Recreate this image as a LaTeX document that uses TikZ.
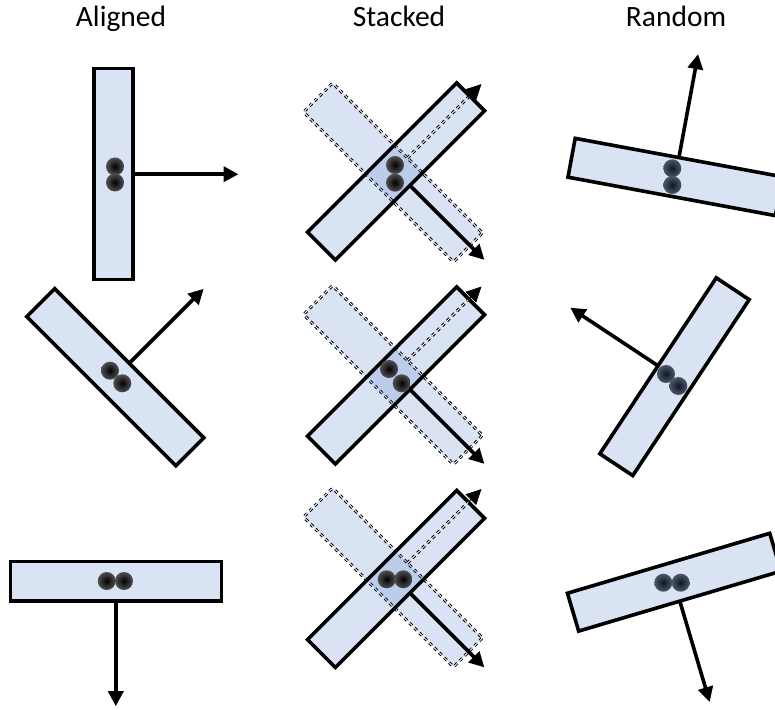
\documentclass[tikz,border=0pt]{standalone}
\usepackage{fontspec}
\setmainfont{Carlito}
\usetikzlibrary{arrows.meta,calc}
\definecolor{layerblue}{HTML}{4472C4}
\pgfdeclareradialshading{dotshade}{\pgfpoint{0bp}{0bp}}{color(0bp)=(black); color(6bp)=(black!92); color(28bp)=(black!65); color(50bp)=(black!30)}
\tikzset{
  layer/.style={rectangle, draw=black, line width=3.6pt, fill=layerblue, fill opacity=0.2, draw opacity=1,
    minimum width=211pt, minimum height=39.5pt, inner sep=0pt, outer sep=0pt},
  hiddenlayer/.style={layer, line width=1pt, double=white, double distance=0.9pt,
    dash pattern=on 3.5pt off 3.5pt, rounded corners=2pt, minimum width=212pt, minimum height=41pt},
  arr/.style={line width=3.6pt, -{Triangle[length=15pt,width=15pt]}},
  hiddenarr/.style={line width=1pt, double=white, double distance=0.9pt, dash pattern=on 3.5pt off 3.5pt},
  tiponly/.style={line width=0.8pt, -{Triangle[length=15pt,width=15pt]}},
  dot/.style={circle, minimum size=18pt, inner sep=0pt, outer sep=0pt, shade, shading=dotshade},
  title/.style={anchor=base, font=\fontsize{29.5}{35}\selectfont, inner sep=0pt}
}
\begin{document}
\begin{tikzpicture}[x=1pt,y=1pt]
\useasboundingbox (0,0) rectangle (775,709);
\clip (0,0) rectangle (775,709);

% titles
\node[title] (tA) at (121,682.3) {Aligned};
\node[title] (tS) at (399,682.3) {Stacked};
\node[title] (tR) at (676,682.3) {Random};

% ---------------- Aligned ----------------
\node[layer, rotate=-90] (a1) at (113.5,534.8) {};
\node[dot] (a1d1) at (115,542.5) {};
\node[dot] (a1d2) at (115,526.5) {};
\coordinate (a1tip) at ($(a1.center)!125pt!(a1.north)$);
\draw[arr] (a1.north) -- (a1tip);

\node[layer, rotate=-45] (a2) at (115.3,331.8) {};
\node[dot] (a2d1) at (110,338.3) {};
\node[dot] (a2d2) at (122.3,325.7) {};
\coordinate (a2tip) at ($(a2.center)!125pt!(a2.north)$);
\draw[arr] (a2.north) -- (a2tip);

\node[layer, rotate=180] (a3) at (115.8,127.8) {};
\node[dot] (a3d1) at (106.7,128) {};
\node[dot] (a3d2) at (124,128) {};
\coordinate (a3tip) at ($(a3.center)!125pt!(a3.north)$);
\draw[arr] (a3.north) -- (a3tip);

% ---------------- Stacked ----------------
% row 1
\node[hiddenlayer, rotate=-45] (s1h) at (393,536.5) {};
\node[layer, rotate=-135] (s1) at (396,537.5) {};
\coordinate (s1htip) at ($(s1h.center)!125pt!(s1h.north)$);
\coordinate (s1hmid) at ($(s1h.center)!112pt!(s1h.north)$);
\draw[hiddenarr] (s1h.north) -- (s1hmid);
\draw[tiponly] ($(s1h.center)!106pt!(s1h.north)$) -- (s1htip);
\coordinate (s1tip) at ($(s1.center)!125pt!(s1.north)$);
\draw[arr] (s1.north) -- (s1tip);
\node[dot] (s1d1) at (395,544) {};
\node[dot] (s1d2) at (395,526.3) {};

% row 2
\node[hiddenlayer, rotate=-45] (s2h) at (393,334) {};
\node[layer, rotate=-135] (s2) at (396,333.5) {};
\coordinate (s2htip) at ($(s2h.center)!125pt!(s2h.north)$);
\coordinate (s2hmid) at ($(s2h.center)!112pt!(s2h.north)$);
\draw[hiddenarr] (s2h.north) -- (s2hmid);
\draw[tiponly] ($(s2h.center)!106pt!(s2h.north)$) -- (s2htip);
\coordinate (s2tip) at ($(s2.center)!125pt!(s2.north)$);
\draw[arr] (s2.north) -- (s2tip);
\node[dot] (s2d1) at (389,340) {};
\node[dot] (s2d2) at (401.7,325.7) {};

% row 3
\node[hiddenlayer, rotate=-45] (s3h) at (393,131.5) {};
\node[layer, rotate=-135] (s3) at (396,130) {};
\coordinate (s3htip) at ($(s3h.center)!125pt!(s3h.north)$);
\coordinate (s3hmid) at ($(s3h.center)!112pt!(s3h.north)$);
\draw[hiddenarr] (s3h.north) -- (s3hmid);
\draw[tiponly] ($(s3h.center)!106pt!(s3h.north)$) -- (s3htip);
\coordinate (s3tip) at ($(s3.center)!125pt!(s3.north)$);
\draw[arr] (s3.north) -- (s3tip);
\node[dot] (s3d1) at (386.7,129.7) {};
\node[dot] (s3d2) at (403.3,129.7) {};

% ---------------- Random ----------------
\node[dot] (r1d1) at (672.3,540.7) {};
\node[dot] (r1d2) at (672.3,524) {};
\node[layer, rotate=-10.5] (r1) at (675.3,532) {};
\coordinate (r1tip) at ($(r1.center)!125pt!(r1.north)$);
\draw[arr] (r1.north) -- (r1tip);

\node[dot] (r2d1) at (666,335) {};
\node[dot] (r2d2) at (678.3,323) {};
\node[layer, rotate=56.5] (r2) at (674.5,332.3) {};
\coordinate (r2tip) at ($(r2.center)!125pt!(r2.north)$);
\draw[arr] (r2.north) -- (r2tip);

\node[dot] (r3d1) at (663.3,126.3) {};
\node[dot] (r3d2) at (680.7,126.3) {};
\node[layer, rotate=196.5] (r3) at (674.2,126.8) {};
\coordinate (r3tip) at ($(r3.center)!125pt!(r3.north)$);
\draw[arr] (r3.north) -- (r3tip);
\end{tikzpicture}
\end{document}
